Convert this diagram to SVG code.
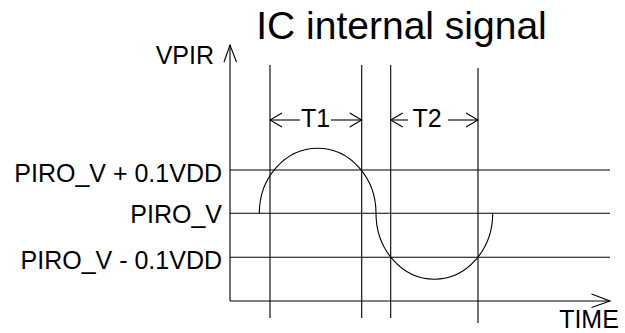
<svg xmlns="http://www.w3.org/2000/svg" width="625" height="333" viewBox="0 0 625 333">
<style>
.ln{stroke:#000;stroke-width:1.1;fill:none}
.tx{font-family:"Liberation Sans",Arial,sans-serif;fill:#000}
.lb{font-size:25px}
</style>
<rect width="625" height="333" fill="#fff"/>
<g id="title"><text class="tx" x="401.5" y="39" font-size="39" text-anchor="middle">IC internal signal</text></g>
<g id="axes">
<line class="ln" x1="230" y1="45" x2="230" y2="301"/>
<polyline class="ln" points="224,62 230,45 236.5,62"/>
<line class="ln" x1="230" y1="301" x2="610" y2="301"/>
<polyline class="ln" points="591.5,294 610,301 591.5,307.5"/>
<text class="tx lb" x="214" y="64" text-anchor="end">VPIR</text>
<text class="tx lb" x="589" y="328" text-anchor="middle">TIME</text>
</g>
<g id="levels">
<line class="ln" x1="230" y1="170" x2="610" y2="170"/>
<line class="ln" x1="230" y1="213.3" x2="610" y2="213.3"/>
<line class="ln" x1="230" y1="257.3" x2="610" y2="257.3"/>
<text class="tx lb" x="222" y="182" text-anchor="end">PIRO_V + 0.1VDD</text>
<text class="tx lb" x="222" y="223" text-anchor="end">PIRO_V</text>
<text class="tx lb" x="222" y="269" text-anchor="end">PIRO_V - 0.1VDD</text>
</g>
<g id="markers">
<line class="ln" x1="270" y1="65" x2="270" y2="318"/>
<line class="ln" x1="361.7" y1="65" x2="361.7" y2="318"/>
<line class="ln" x1="390.7" y1="65" x2="390.7" y2="318"/>
<line class="ln" x1="478" y1="68" x2="478" y2="323"/>
</g>
<g id="wave">
<path class="ln" d="M259.3,213.3 A58.3,65 0 0 1 376,213.3 A58.3,66 0 0 0 492.7,213.3"/>
</g>
<g id="connectors">
<line class="ln" x1="270" y1="120" x2="300" y2="120"/>
<polyline class="ln" points="282,113 270,120 282,127"/>
<line class="ln" x1="331" y1="120" x2="361.7" y2="120"/>
<polyline class="ln" points="349.7,113 361.7,120 349.7,127"/>
<line class="ln" x1="390.7" y1="120" x2="408" y2="120"/>
<polyline class="ln" points="402.7,113 390.7,120 402.7,127"/>
<line class="ln" x1="448" y1="120" x2="478" y2="120"/>
<polyline class="ln" points="466,113 478,120 466,127"/>
</g>
<g id="labels">
<text class="tx lb" x="315.5" y="127" text-anchor="middle">T1</text>
<text class="tx lb" x="427" y="127" text-anchor="middle">T2</text>
</g>
</svg>
